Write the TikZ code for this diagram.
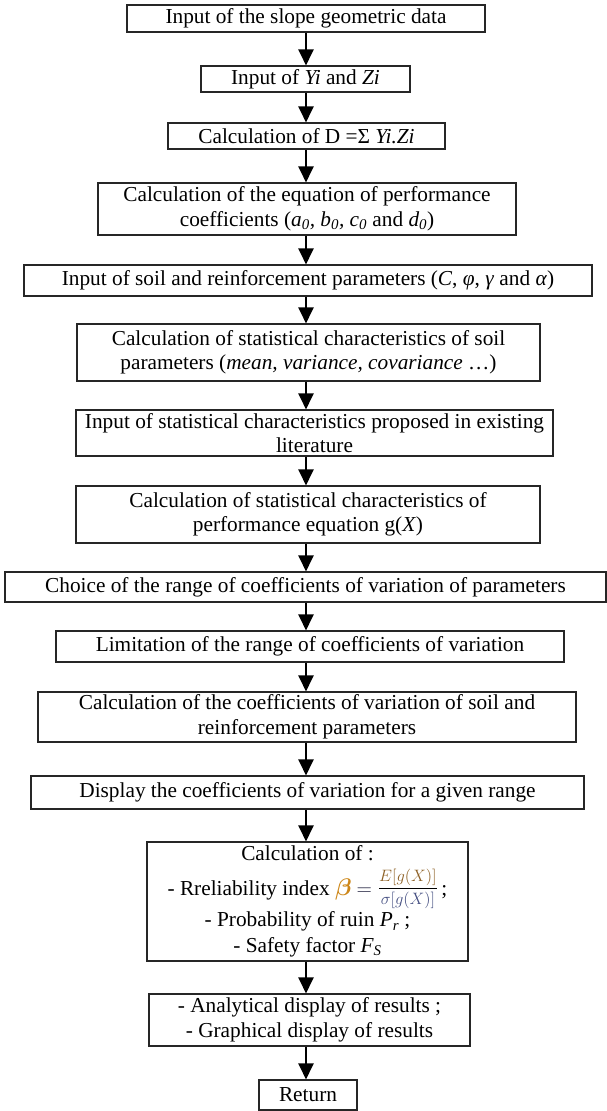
\RequirePackage{fix-cm}
\documentclass[tikz,border=0pt]{standalone}
\usepackage{fontspec}
\setmainfont{Liberation Serif}
\usepackage{amsmath}
\usetikzlibrary{arrows.meta}
\definecolor{betacol}{RGB}{205,135,25}
\definecolor{numcol}{RGB}{140,95,35}
\definecolor{dencol}{RGB}{70,80,130}
\definecolor{eqdark}{RGB}{30,30,60}
\newcommand{\reliab}{%
  \smash{{\fontsize{24}{26}\selectfont\color{betacol}$\boldsymbol{\beta}$}}%
  \hspace{5pt}{\color{eqdark}$=$}\hspace{6pt}%
  \smash{\raisebox{2.5pt}{\fontsize{16.5}{19}\selectfont$\dfrac{\color{numcol}E[g(X)]}{\color{dencol}\sigma[g(X)]}$}}}
\begin{document}
\begin{tikzpicture}[x=1pt,y=-1pt,
  box/.style={draw=black!85, line width=1.1pt, inner sep=0pt, align=center,
    font=\fontsize{21.3}{24.5}\selectfont},
  arr/.style={line width=2.2pt, -{Triangle[width=15pt,length=16pt]}}]
\useasboundingbox (0,0) rectangle (607,1111);
\coordinate (ax) at (306,0);
\node[box, minimum width=358pt, minimum height=27pt] (b1) at (306,18.5) {Input of the slope geometric data};
\node[box, minimum width=209pt, minimum height=26pt] (b2) at (305.5,79) {Input of \textit{Yi} and \textit{Zi}};
\node[box, minimum width=277pt, minimum height=26pt] (b3) at (306.5,136) {Calculation of D =Σ \textit{Yi.Zi}};
\node[box, minimum width=418pt, minimum height=52pt] (b4) at (307,209) {Calculation of the equation of performance\\coefficients (\textit{a\textsubscript{0}, b\textsubscript{0}, c\textsubscript{0}} and \textit{d\textsubscript{0}})};
\node[box, minimum width=568pt, minimum height=31pt] (b5) at (308,280.5) {Input of soil and reinforcement parameters (\textit{C}, \textit{φ}, \textit{γ} and \textit{α})};
\node[box, minimum width=463pt, minimum height=57pt] (b6) at (308.5,352.5) {Calculation of statistical characteristics of soil\\parameters (\textit{mean, variance, covariance} …)};
\node[box, minimum width=477pt, minimum height=46pt] (b7) at (314.5,433) {Input of statistical characteristics proposed in existing\\literature};
\node[box, minimum width=464pt, minimum height=57pt] (b8) at (308,514.5) {Calculation of statistical characteristics of\\performance equation g(\textit{X})};
\node[box, minimum width=601pt, minimum height=30pt] (b9) at (305.5,587) {Choice of the range of coefficients of variation of parameters};
\node[box, minimum width=508pt, minimum height=31pt] (b10) at (310,646.5) {Limitation of the range of coefficients of variation};
\node[box, minimum width=538pt, minimum height=50pt] (b11) at (307,717) {Calculation of the coefficients of variation of soil and\\reinforcement parameters};
\node[box, minimum width=553pt, minimum height=33pt] (b12) at (307.5,792.5) {Display the coefficients of variation for a given range};
\node[box, minimum width=321pt, minimum height=119pt] (b13) at (307.5,901.5) {Calculation of :\\[10pt]
- Rreliability index \reliab\,;\\[7pt]
- Probability of ruin \textit{P\textsubscript{r}} ;\\[1pt]
- Safety factor \textit{F\textsubscript{S}}};
\node[box, minimum width=321pt, minimum height=52pt] (b14) at (309.5,1020) {- Analytical display of results ;\\- Graphical display of results};
\node[box, minimum width=98pt, minimum height=30pt] (b15) at (308,1095) {Return};
\foreach \a/\b in {b1/b2,b2/b3,b3/b4,b4/b5,b5/b6,b6/b7,b7/b8,b8/b9,b9/b10,b10/b11,b11/b12,b12/b13,b13/b14,b14/b15}
  \draw[arr] (\a.south -| ax) -- (\b.north -| ax);
\end{tikzpicture}
\end{document}
